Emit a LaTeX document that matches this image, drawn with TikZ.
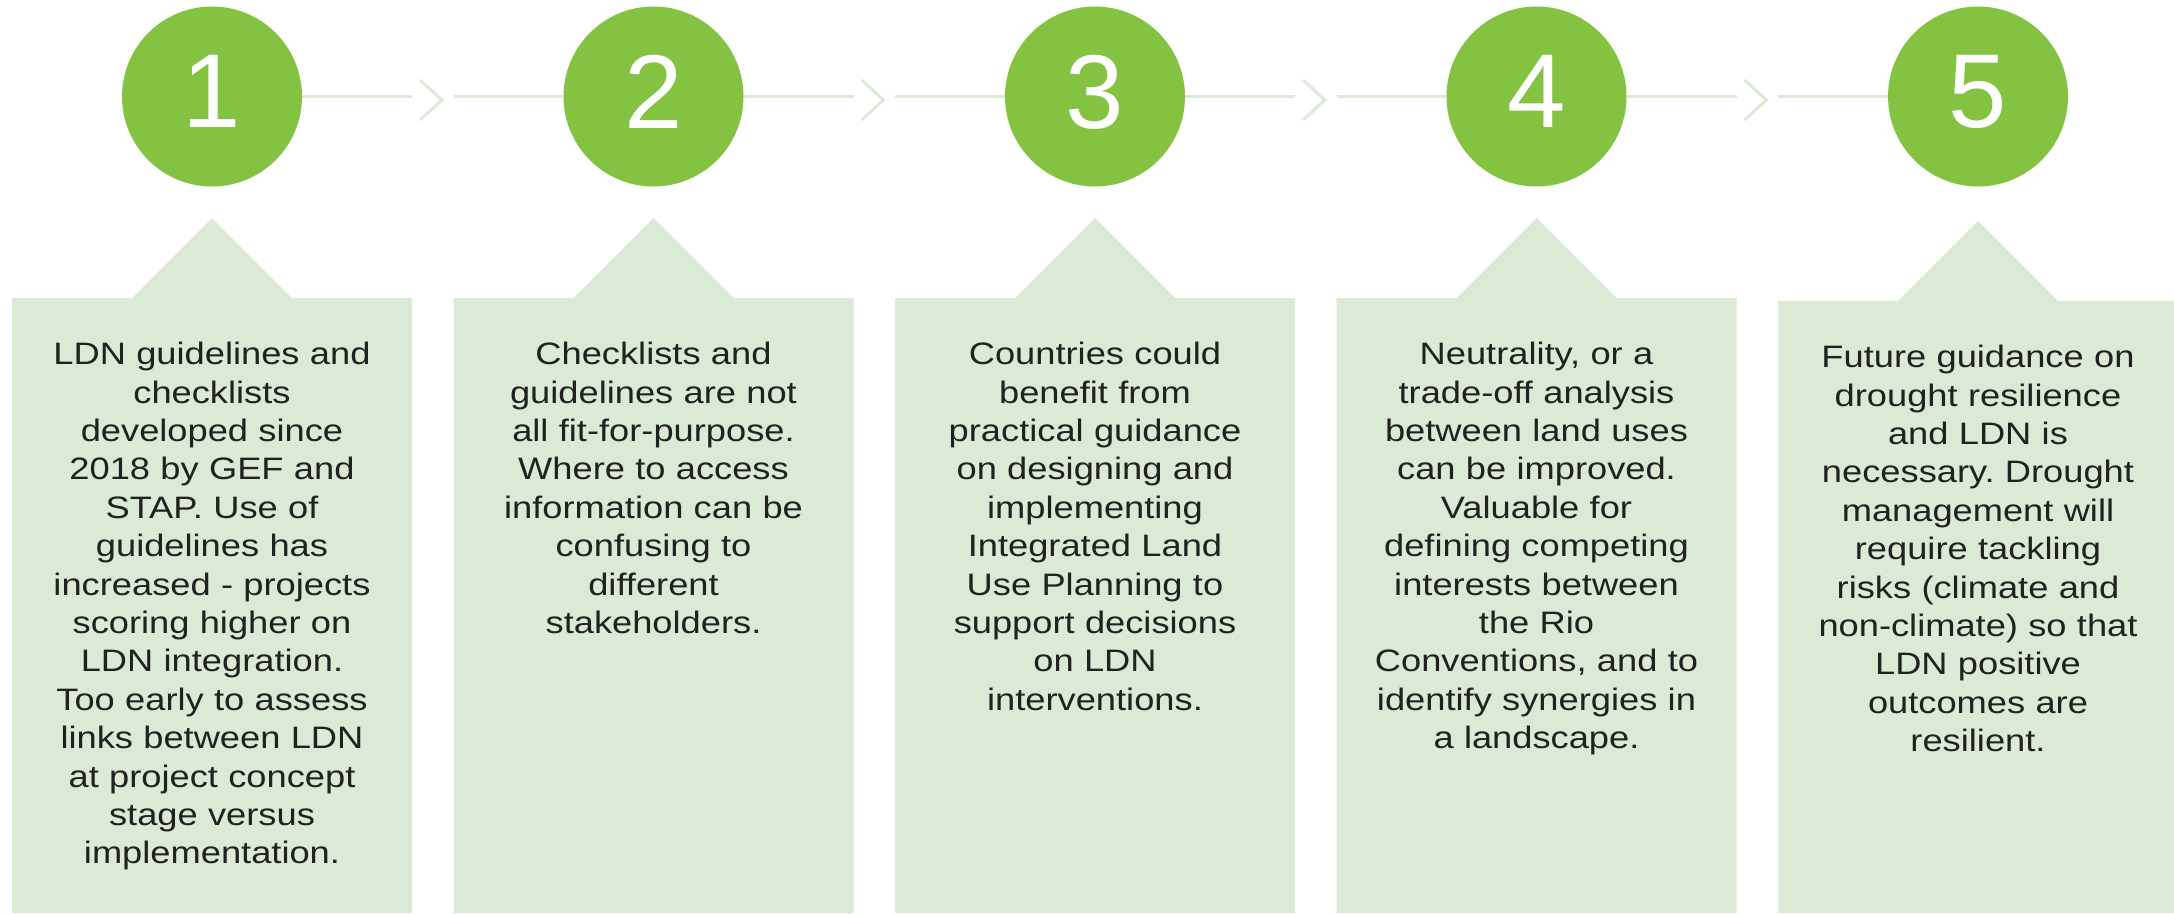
\documentclass[tikz,border=0pt]{standalone}
\usepackage{fontspec}
\setmainfont{Liberation Sans}
\newfontfamily\boxfont{Liberation Sans}[FakeStretch=1.17]
\usepackage{tikz}
\usetikzlibrary{positioning,shapes}
\frenchspacing

\definecolor{stepgreen}{RGB}{132,195,65}
\definecolor{palegreen}{RGB}{218,234,212}
\definecolor{boxtext}{RGB}{33,33,33}

\begin{document}
\begin{tikzpicture}[x=1pt,y=-1pt]
      \tikzstyle{num}=[circle,fill=stepgreen,text=white,minimum size=180pt,inner sep=0pt,text depth=10pt,font=\fontsize{105}{105}\selectfont]
      \tikzstyle{panel}=[fill=palegreen]
      \tikzstyle{info}=[anchor=north,text width=390pt,align=center,inner sep=0pt,text=boxtext,font=\boxfont\fontsize{31}{38.4}\selectfont]
      \tikzstyle{link}=[draw=palegreen,line width=3pt]
      \tikzstyle{chev}=[draw=palegreen,line width=3pt]
      \useasboundingbox (0,0) rectangle (2174,913);
      \clip (0,0) rectangle (2174,913);

      % panels with a pointer
      \path[panel] (12,298) -- (132,298) -- (212,218) -- (292,298) -- (412,298) -- (412,913) -- (12,913) -- cycle;
      \path[panel] (453.5,298) -- (573.5,298) -- (653.5,218) -- (733.5,298) -- (853.5,298) -- (853.5,913) -- (453.5,913) -- cycle;
      \path[panel] (895,298) -- (1015,298) -- (1095,218) -- (1175,298) -- (1295,298) -- (1295,913) -- (895,913) -- cycle;
      \path[panel] (1336.5,298) -- (1456.5,298) -- (1536.5,218) -- (1616.5,298) -- (1736.5,298) -- (1736.5,913) -- (1336.5,913) -- cycle;
      \path[panel] (1778,301) -- (1898,301) -- (1978,221) -- (2058,301) -- (2178,301) -- (2178,913) -- (1778,913) -- cycle;

      \node[num] (c1) at (212,96.5) {1};
      \node[num] (c2) at (653.5,96.5) {2};
      \node[num] (c3) at (1095,96.5) {3};
      \node[num] (c4) at (1536.5,96.5) {4};
      \node[num] (c5) at (1978,96.5) {5};

      \coordinate (e1) at (412,96.5);
      \coordinate (e2) at (853.5,96.5);
      \coordinate (e3) at (1295,96.5);
      \coordinate (e4) at (1736.5,96.5);
      \coordinate (s2) at (453.5,96.5);
      \coordinate (s3) at (895,96.5);
      \coordinate (s4) at (1336.5,96.5);
      \coordinate (s5) at (1778,96.5);
      \coordinate (h1) at (431,100);
      \coordinate (h2) at (872.5,100);
      \coordinate (h3) at (1314,100);
      \coordinate (h4) at (1755.5,100);

      \draw[link] (c1) -- (e1);
      \draw[link] (s2) -- (c2);
      \draw[link] (c2) -- (e2);
      \draw[link] (s3) -- (c3);
      \draw[link] (c3) -- (e3);
      \draw[link] (s4) -- (c4);
      \draw[link] (c4) -- (e4);
      \draw[link] (s5) -- (c5);
      \draw[chev] (h1) ++(-11,-20) -- ++(22,20) -- ++(-22,20);
      \draw[chev] (h2) ++(-11,-20) -- ++(22,20) -- ++(-22,20);
      \draw[chev] (h3) ++(-11,-20) -- ++(22,20) -- ++(-22,20);
      \draw[chev] (h4) ++(-11,-20) -- ++(22,20) -- ++(-22,20);

      \node[info] (t1) at (212,342) {LDN guidelines and\\ checklists\\ developed since\\ 2018 by GEF and\\ STAP. Use of\\ guidelines has\\ increased - projects\\ scoring higher on\\ LDN integration.\\ Too early to assess\\ links between LDN\\ at project concept\\ stage versus\\ implementation.};
      \node[info] (t2) at (653.5,342) {Checklists and\\ guidelines are not\\ all fit-for-purpose.\\ Where to access\\ information can be\\ confusing to\\ different\\ stakeholders.};
      \node[info] (t3) at (1095,342) {Countries could\\ benefit from\\ practical guidance\\ on designing and\\ implementing\\ Integrated Land\\ Use Planning to\\ support decisions\\ on LDN\\ interventions.};
      \node[info] (t4) at (1536.5,342) {Neutrality, or a\\ trade-off analysis\\ between land uses\\ can be improved.\\ Valuable for\\ defining competing\\ interests between\\ the Rio\\ Conventions, and to\\ identify synergies in\\ a landscape.};
      \node[info] (t5) at (1978,345) {Future guidance on\\ drought resilience\\ and LDN is\\ necessary. Drought\\ management will\\ require tackling\\ risks (climate and\\ non-climate) so that\\ LDN positive\\ outcomes are\\ resilient.};
    \end{tikzpicture}
\end{document}
